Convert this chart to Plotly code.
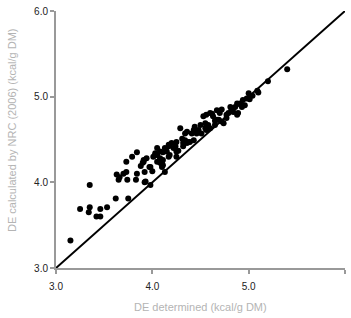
import plotly.graph_objects as go

# DE determined (x) and DE calculated by NRC (2006) (y), kcal/g DM
de_determined = [3.15, 3.25, 3.35, 3.35, 3.34, 3.42, 3.46, 3.46, 3.53, 3.62,
                 3.63, 3.65, 3.66, 3.70, 3.73, 3.74, 3.75, 3.83, 3.84, 3.90,
                 3.88, 3.73, 3.92, 3.98, 3.92, 4.05, 4.08, 4.10, 3.84, 3.79,
                 3.91, 3.97, 3.93, 4.01, 4.05, 4.08, 4.11, 4.14, 4.11, 4.18,
                 4.20, 4.24, 4.22, 4.29, 4.31, 4.34, 4.36, 4.39, 4.36, 4.41,
                 4.44, 4.50, 4.53, 4.56, 4.60, 4.63, 4.67, 4.51, 4.56, 4.60,
                 4.65, 4.58, 4.55, 4.46, 4.37, 4.34, 4.43, 4.72, 4.70, 4.62,
                 4.69, 4.72, 4.74, 4.81, 4.82, 4.86, 4.88, 4.91, 4.93, 4.96,
                 4.89, 5.00, 5.01, 4.98, 5.01, 5.09, 5.10, 5.20, 5.40, 4.77,
                 4.79, 4.84, 4.94, 5.04, 4.05, 4.03, 4.11, 4.17, 4.13, 4.32,
                 4.25, 4.10, 4.25, 3.98, 4.13, 4.00, 4.15, 4.27, 4.44, 4.67,
                 4.55, 4.65, 4.77, 4.88, 4.48, 4.43, 4.17, 4.08, 4.03, 3.94,
                 3.91, 4.25, 4.10, 4.17, 4.32]
de_nrc = [3.32, 3.69, 3.97, 3.71, 3.65, 3.60, 3.60, 3.69, 3.71, 3.81,
          4.09, 4.03, 4.06, 4.10, 4.12, 4.03, 3.81, 4.03, 4.10, 4.23,
          4.19, 4.24, 4.12, 4.18, 4.00, 4.24, 4.23, 4.21, 4.35, 4.30,
          4.26, 4.18, 4.01, 4.30, 4.32, 4.28, 4.35, 4.38, 4.26, 4.32,
          4.46, 4.42, 4.40, 4.63, 4.51, 4.49, 4.46, 4.47, 4.59, 4.57,
          4.61, 4.67, 4.77, 4.79, 4.81, 4.77, 4.73, 4.57, 4.61, 4.63,
          4.67, 4.67, 4.63, 4.57, 4.47, 4.57, 4.61, 4.85, 4.81, 4.80,
          4.73, 4.71, 4.69, 4.88, 4.86, 4.88, 4.92, 4.92, 4.88, 4.90,
          4.81, 5.04, 5.00, 4.98, 4.97, 5.07, 5.05, 5.18, 5.32, 4.75,
          4.81, 4.82, 4.96, 5.01, 4.40, 4.34, 4.20, 4.44, 4.40, 4.42,
          4.47, 4.18, 4.30, 3.97, 4.12, 4.13, 4.36, 4.37, 4.65, 4.84,
          4.69, 4.72, 4.79, 4.79, 4.61, 4.49, 4.42, 4.36, 4.32, 4.28,
          4.24, 4.36, 4.24, 4.30, 4.46]

line_x = [3.0, 6.0]
line_y = [3.0, 6.0]
tick_vals = [3.0, 4.0, 5.0, 6.0]
tick_text = ["3.0", "4.0", "5.0", "6.0"]

fig = go.Figure()
fig.add_trace(go.Scatter(x=line_x, y=line_y, mode="lines",
                         line=dict(color="black", width=2), hoverinfo="skip"))
fig.add_trace(go.Scatter(x=de_determined, y=de_nrc, mode="markers",
                         marker=dict(color="black", size=6)))

axis_common = dict(range=[3, 6], tickvals=tick_vals, ticktext=tick_text,
                   showgrid=False, zeroline=False, showline=True,
                   linecolor="#999999", linewidth=2, ticks="outside",
                   ticklen=4, tickwidth=1.5, tickcolor="#999999",
                   tickfont=dict(family="Liberation Sans, Arial", size=10, color="#222222"))

fig.update_xaxes(**axis_common, ticklabelstandoff=4)
fig.update_yaxes(**axis_common)

title_font = dict(family="Liberation Sans, Arial", size=11, color="#b4b4b4")
fig.add_annotation(text="DE determined (kcal/g DM)", xref="paper", yref="paper",
                   x=0.5, y=-0.152, showarrow=False, font=title_font,
                   xanchor="center", yanchor="middle")
fig.add_annotation(text="DE calculated by NRC (2006) (kcal/g DM)", xref="paper", yref="paper",
                   x=-0.152, y=0.537, showarrow=False, font=title_font, textangle=-90,
                   xanchor="center", yanchor="middle")

fig.update_layout(width=351, height=318, showlegend=False,
                  margin=dict(l=56, r=6, t=11, b=50),
                  plot_bgcolor="white", paper_bgcolor="white")

fig.write_html("out.html")
